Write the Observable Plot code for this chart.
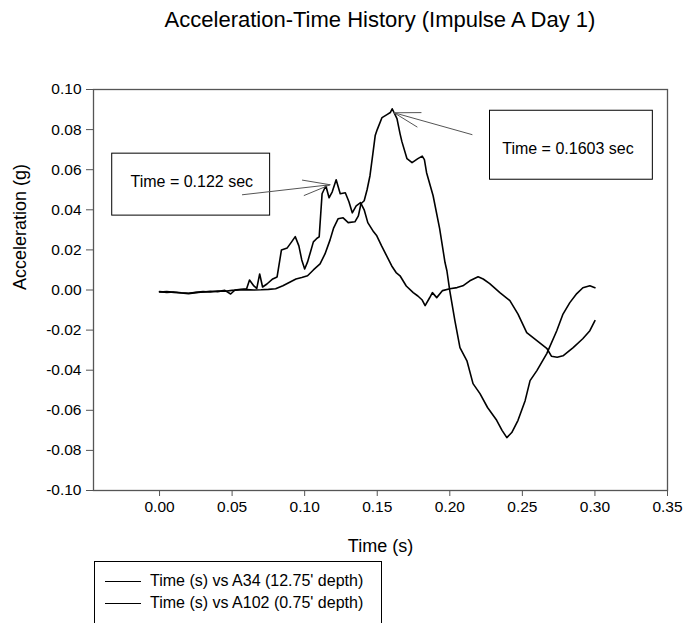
<!DOCTYPE html>
<html><head><meta charset="utf-8">
<script src="https://cdn.jsdelivr.net/npm/d3@7"></script>
<script src="https://cdn.jsdelivr.net/npm/@observablehq/plot@0.6"></script>
<style>
html,body{margin:0;padding:0;background:#fff;}
#wrap{position:relative;width:687px;height:623px;overflow:hidden;font-family:"Liberation Sans",Arial,sans-serif;color:#000;background:#fff;}
#title{position:absolute;left:93px;width:574px;top:9px;text-align:center;font-size:22px;line-height:22px;white-space:nowrap;}
#chart{position:absolute;left:0;top:40px;}
#legend{position:absolute;left:94px;top:561px;width:288px;height:80px;border:1.5px solid #000;box-sizing:border-box;padding-top:8px;font-size:16px;}
.row{display:flex;align-items:center;height:22px;white-space:nowrap;}
.sw{width:36px;border-top:1px solid #000;margin-left:10px;margin-right:9px;}
</style></head>
<body><div id="wrap"><div id="title"></div><div id="chart"></div><div id="legend"></div></div>
<script>
const titleText = "Acceleration-Time History (Impulse A Day 1)";
const xLabel = "Time (s)";
const yLabel = "Acceleration (g)";
const seriesNames = ["Time (s) vs A34 (12.75' depth)", "Time (s) vs A102 (0.75' depth)"];

const xTicks = [0, 0.05, 0.10, 0.15, 0.20, 0.25, 0.30, 0.35];
const yTicks = [-0.10, -0.08, -0.06, -0.04, -0.02, 0, 0.02, 0.04, 0.06, 0.08, 0.10];

// Series A34 (secondary peak at 0.122 s)
const timeA34 = [0.000,0.005,0.010,0.015,0.020,0.025,0.030,0.035,0.040,0.045,0.049,0.052,0.056,0.060,0.062,0.065,0.067,0.069,0.071,0.074,0.078,0.081,0.084,0.088,0.091,0.0935,0.096,0.098,0.100,0.102,0.104,0.106,0.1085,0.110,0.112,0.1146,0.1168,0.119,0.1217,0.1245,0.128,0.1305,0.1328,0.1355,0.1385,0.141,0.1435,0.1475,0.1497,0.153,0.1565,0.160,0.163,0.1657,0.170,0.1748,0.178,0.181,0.183,0.186,0.188,0.191,0.195,0.200,0.205,0.209,0.2138,0.2195,0.223,0.2275,0.2345,0.2414,0.247,0.253,0.260,0.267,0.270,0.274,0.278,0.285,0.2916,0.2965,0.300];
const accA34 = [-0.0010,-0.0008,-0.0012,-0.0015,-0.0018,-0.0013,-0.0010,-0.0006,-0.0008,-0.0002,-0.0020,0.0000,0.0004,0.0006,0.0050,0.0020,0.0008,0.0080,0.0015,0.0030,0.0055,0.0065,0.0200,0.0210,0.0240,0.0266,0.0220,0.0150,0.0105,0.0140,0.0190,0.0240,0.0258,0.0265,0.0480,0.0520,0.0460,0.0490,0.0550,0.0480,0.0485,0.0440,0.0385,0.0420,0.0436,0.0400,0.0336,0.0290,0.0270,0.0220,0.0170,0.0120,0.0087,0.0071,0.0020,-0.0013,-0.0030,-0.0050,-0.0078,-0.0040,-0.0013,-0.0038,-0.0003,0.0006,0.0012,0.0021,0.0046,0.0066,0.0055,0.0032,-0.0013,-0.0053,-0.0120,-0.0213,-0.0253,-0.0293,-0.0330,-0.0335,-0.0328,-0.0287,-0.0243,-0.0203,-0.0153];

// Series A102 (main peak at 0.1603 s)
const timeA102 = [0.000,0.005,0.010,0.015,0.020,0.025,0.030,0.035,0.040,0.045,0.050,0.055,0.060,0.065,0.070,0.075,0.080,0.085,0.090,0.094,0.098,0.102,0.106,0.1106,0.114,0.1175,0.120,0.123,0.1265,0.130,0.1346,0.137,0.1388,0.141,0.143,0.145,0.147,0.1486,0.150,0.1533,0.1567,0.159,0.1603,0.1636,0.1657,0.167,0.1705,0.174,0.178,0.181,0.1825,0.184,0.1885,0.193,0.1967,0.198,0.200,0.2035,0.207,0.2118,0.216,0.2208,0.226,0.2323,0.236,0.2393,0.2427,0.247,0.2519,0.2553,0.260,0.2668,0.2737,0.278,0.2827,0.2875,0.2917,0.2965,0.300];
const accA102 = [-0.0008,-0.0012,-0.0010,-0.0014,-0.0016,-0.0012,-0.0008,-0.0010,-0.0005,-0.0006,-0.0002,0.0000,0.0002,0.0000,0.0001,0.0003,0.0006,0.0021,0.0040,0.0055,0.0062,0.0071,0.0100,0.0130,0.0180,0.0250,0.0310,0.0355,0.0360,0.0336,0.0340,0.0370,0.0430,0.0445,0.0500,0.0570,0.0680,0.0770,0.0800,0.0860,0.0875,0.0885,0.0904,0.0855,0.0780,0.0740,0.0655,0.0635,0.0655,0.0668,0.0650,0.0585,0.0470,0.0306,0.0137,0.0096,-0.0004,-0.0153,-0.0287,-0.0353,-0.0467,-0.0517,-0.0586,-0.0650,-0.0700,-0.0736,-0.0711,-0.0650,-0.0552,-0.0452,-0.0402,-0.0317,-0.0203,-0.0120,-0.0063,-0.0018,0.0011,0.0021,0.0011];

// Annotations (data coordinates)
const annotationLabels = ["Time = 0.122 sec", "Time = 0.1603 sec"];
const boxX1 = [-0.0326, 0.2277];
const boxX2 = [0.0762, 0.3399];
const boxY1 = [0.0371, 0.0550];
const boxY2 = [0.0680, 0.0894];
const labelX = [0.0222, 0.2814];
const labelY = [0.0540, 0.0705];
const arrowFromX = [0.0571, 0.2153];
const arrowFromY = [0.0475, 0.0775];
const arrowToX = [0.1175, 0.1616];
const arrowToY = [0.0525, 0.0884];

const rows = (t, a, s) => t.map((d, i) => ({t: d, a: a[i], s}));
const data = [...rows(timeA34, accA34, seriesNames[0]), ...rows(timeA102, accA102, seriesNames[1])];
const boxes = annotationLabels.map((label, i) => ({
  label, x1: boxX1[i], x2: boxX2[i], y1: boxY1[i], y2: boxY2[i], tx: labelX[i], ty: labelY[i],
  ax1: arrowFromX[i], ay1: arrowFromY[i], ax2: arrowToX[i], ay2: arrowToY[i]
}));

document.getElementById("title").textContent = titleText;

const fmt = d => d.toFixed(2);
const chart = Plot.plot({
  width: 687, height: 521,
  marginTop: 49, marginBottom: 71, marginLeft: 93, marginRight: 20,
  x: {domain: [-0.0455, 0.35]},
  y: {domain: [-0.10, 0.10]},
  style: {fontFamily: "'Liberation Sans', Arial, sans-serif", fontSize: "15px", color: "black", background: "white", overflow: "visible"},
  marks: [
    Plot.axisX({ticks: xTicks, tickFormat: fmt, tickSize: 6, tickPadding: 4, fontSize: 15.5, stroke: "#555", label: null}),
    Plot.axisY({ticks: yTicks, tickFormat: fmt, tickSize: 7, tickPadding: 5, fontSize: 15.5, stroke: "#555", label: null}),
    Plot.text([xLabel], {frameAnchor: "bottom", dy: 56, lineAnchor: "middle", fontSize: 18, text: d => d}),
    Plot.text([yLabel], {frameAnchor: "left", dx: -73, rotate: -90, fontSize: 18, text: d => d}),
    Plot.line(data, {x: "t", y: "a", z: "s", stroke: "black", strokeWidth: 1.6}),
    Plot.rect(boxes, {x1: "x1", x2: "x2", y1: "y1", y2: "y2", fill: "white", stroke: "black", strokeWidth: 1}),
    Plot.text(boxes, {x: "tx", y: "ty", text: "label", fontSize: 16}),
    Plot.arrow(boxes, {x1: "ax1", y1: "ay1", x2: "ax2", y2: "ay2", stroke: "#555", strokeWidth: 1, headLength: 42, headAngle: 32}),
    Plot.frame({stroke: "#555", strokeWidth: 1.3})
  ]
});
document.getElementById("chart").appendChild(chart);

const legend = document.getElementById("legend");
seriesNames.forEach(name => {
  const row = document.createElement("div");
  row.className = "row";
  const sw = document.createElement("span");
  sw.className = "sw";
  const tx = document.createElement("span");
  tx.textContent = name;
  row.appendChild(sw); row.appendChild(tx);
  legend.appendChild(row);
});
</script>
</body></html>
